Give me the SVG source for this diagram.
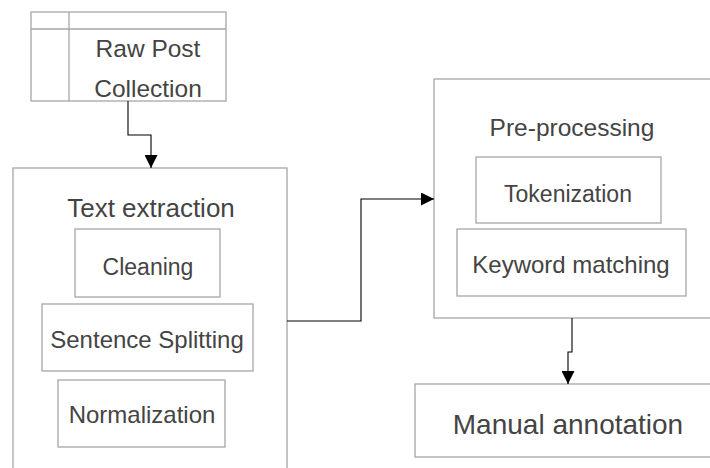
<svg xmlns="http://www.w3.org/2000/svg" width="710" height="468" viewBox="0 0 710 468">
  <defs>
    <style>
      .box { fill: #ffffff; stroke: #a6a6a6; stroke-width: 1.3; }
      .grid { fill: none; stroke: #a6a6a6; stroke-width: 1.3; }
      .lbl { font-family: "Liberation Sans", Arial, sans-serif; fill: #444444; text-anchor: middle; }
      .edge { fill: none; stroke: #000000; stroke-width: 1.1; }
    </style>
    <marker id="arrow" viewBox="0 0 13 13" refX="13" refY="6.5" markerWidth="13" markerHeight="13" markerUnits="userSpaceOnUse" orient="auto">
      <path d="M0,0 L13,6.5 L0,13 Z" fill="#000000"/>
    </marker>
  </defs>

  <!-- data store: raw posts -->
  <g id="raw-post-collection">
    <rect class="box" x="31" y="12" width="195" height="89"/>
    <line class="grid" x1="31" y1="29" x2="226" y2="29"/>
    <line class="grid" x1="69" y1="12" x2="69" y2="101"/>
    <text class="lbl" x="148" y="57" font-size="24.5">Raw Post</text>
    <text class="lbl" x="148" y="97" font-size="24.5">Collection</text>
  </g>

  <!-- stage 1 -->
  <g id="text-extraction">
    <rect class="box" x="13" y="168" width="274" height="320"/>
    <text class="lbl" x="151" y="217" font-size="26">Text extraction</text>
  </g>
  <g id="cleaning">
    <rect class="box" x="75" y="229" width="145" height="68"/>
    <text class="lbl" x="148" y="275" font-size="23">Cleaning</text>
  </g>
  <g id="sentence-splitting">
    <rect class="box" x="42" y="304" width="211" height="67"/>
    <text class="lbl" x="147" y="348" font-size="24">Sentence Splitting</text>
  </g>
  <g id="normalization">
    <rect class="box" x="58" y="380" width="167" height="67"/>
    <text class="lbl" x="142" y="423" font-size="24">Normalization</text>
  </g>

  <!-- stage 2 -->
  <g id="pre-processing">
    <rect class="box" x="434" y="79" width="280" height="239"/>
    <text class="lbl" x="572" y="136" font-size="24.5">Pre-processing</text>
  </g>
  <g id="tokenization">
    <rect class="box" x="476" y="157" width="185" height="66"/>
    <text class="lbl" x="568" y="202" font-size="23">Tokenization</text>
  </g>
  <g id="keyword-matching">
    <rect class="box" x="457" y="229" width="229" height="67"/>
    <text class="lbl" x="571" y="273" font-size="24">Keyword matching</text>
  </g>

  <!-- stage 3 -->
  <g id="manual-annotation">
    <rect class="box" x="415" y="384" width="300" height="73"/>
    <text class="lbl" x="568" y="434" font-size="28">Manual annotation</text>
  </g>

  <!-- connectors -->
  <g id="edges">
    <path class="edge" d="M128,101 V135 H151 V168" marker-end="url(#arrow)"/>
    <path class="edge" d="M287,321 H361 V199 H434" marker-end="url(#arrow)"/>
    <path class="edge" d="M572,318 V352 H568 V384" marker-end="url(#arrow)"/>
  </g>
</svg>
